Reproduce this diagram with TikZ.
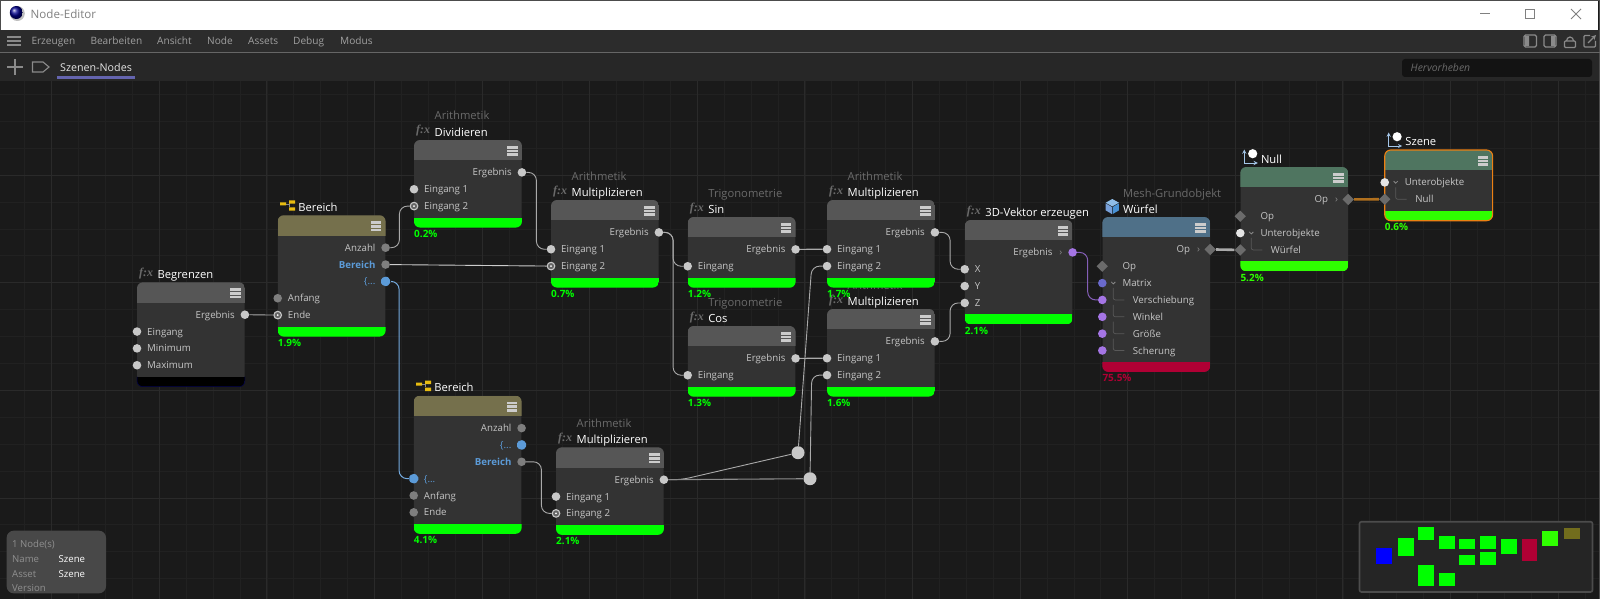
\documentclass[tikz,border=0pt]{standalone}
\usepackage{fontspec}
\setmainfont{Open Sans}
\newfontfamily\fxfont{Liberation Serif}
\usetikzlibrary{calc,shapes.geometric}
\definecolor{canvasbg}{HTML}{1A1A1A}
\definecolor{gridminor}{HTML}{212121}
\definecolor{gridmajor}{HTML}{2A2A2A}
\definecolor{menubg}{HTML}{2C2C2C}
\definecolor{tabbg}{HTML}{272727}
\definecolor{cardbg}{HTML}{333333}
\definecolor{headgray}{HTML}{565656}
\definecolor{headolive}{HTML}{75704C}
\definecolor{headblue}{HTML}{4F7088}
\definecolor{headgreen}{HTML}{4F7560}
\definecolor{barlime}{HTML}{2FFF00}
\definecolor{barred}{HTML}{B00034}
\definecolor{rowgray}{HTML}{C6C6C6}
\definecolor{capgray}{HTML}{6A6A6A}
\definecolor{uigray}{HTML}{8A8A8A}
\definecolor{menugray}{HTML}{A0A0A0}
\definecolor{portlight}{HTML}{C8C8C8}
\definecolor{portdim}{HTML}{7E7E7E}
\definecolor{portblue}{HTML}{5C9BD8}
\definecolor{portpurple}{HTML}{A575E5}
\definecolor{portindigo}{HTML}{6A6ACD}
\definecolor{wireorange}{HTML}{B0701E}
\definecolor{tabline}{HTML}{6464AE}
\definecolor{axisblue}{HTML}{A4C6E8}
\definecolor{rangeyellow}{HTML}{E8BC10}
\tikzset{
	cardbody/.style={fill=cardbg,rounded corners=6,inner sep=0,anchor=north west,minimum width=107.5},
	port/.style={circle,fill=portlight,inner sep=0,minimum size=8.6},
	portgray/.style={port,fill=portdim},
	portpur/.style={port,fill=portpurple},
	portind/.style={port,fill=portindigo},
	portwhite/.style={port,fill=white!90!black},
	portlink/.style={port,fill=#1!80!black,draw=portlight,line width=1.1,minimum size=7.6,
		path picture={\fill[white] (path picture bounding box.center) circle (1);}},
	portlink/.default=portdim,
	portsig/.style={regular polygon,regular polygon sides=5,shape border rotate=-90,fill=portblue,inner sep=0,minimum size=11,rounded corners=1.5},
	portdia/.style={diamond,fill=portdim!85!black,inner sep=0,minimum size=11.5},
	junction/.style={circle,fill=portlight,inner sep=0,minimum size=13},
	rowlab/.style={text=rowgray,inner sep=0,font=\fontsize{9.7}{11}\selectfont,text height=7,text depth=0},
	cardtitle/.style={text=white,inner sep=0,anchor=base west,font=\fontsize{11.2}{13}\selectfont},
	cardcap/.style={text=capgray,inner sep=0,anchor=base west,font=\fontsize{11.2}{13}\selectfont},
	fxmark/.style={text=capgray,inner sep=0,anchor=base west,font=\fontsize{12}{13}\fxfont\bfseries\itshape},
	perc/.style={inner sep=0,anchor=north west,font=\fontsize{10}{12}\selectfont\bfseries},
	wire/.style={draw=portlight!85!black,line width=.9,rounded corners=8},
	bluewire/.style={draw=portblue!85!white,line width=1,rounded corners=8},
	purplewire/.style={draw=portpurple!80!black,line width=1,rounded corners=8},
	treeline/.style={draw=white!35!black,line width=.7,rounded corners=2},
	menutext/.style={text=menugray,inner sep=0,anchor=base west,font=\fontsize{10.1}{12}\selectfont},
	uiline/.style={draw=uigray,line width=1.2},
}
\newcommand{\cardbox}[6]{% name, left, top, rows, header, bar
	\node[cardbody,minimum height={36.6+16.85*#4}] (#1) at (#2,#3) {};
	\begin{scope}
		\clip[rounded corners=6] (#1.north west) rectangle (#1.south east);
		\fill[#5] (#1.north west) rectangle ([yshift=-20.3]#1.north east);
		\fill[#6] ([yshift=10]#1.south west) rectangle (#1.south east);
	\end{scope}
	\foreach \k in {0,1,2}
		\fill[white!80!black] ([xshift=-15,yshift={-6-3.6*\k}]#1.north east) rectangle ++(10.6,2.6);
}
\newcommand{\cardname}[3][]{% category, card, title
	\node[cardtitle] (#2-title) at ([xshift=20.5,yshift=4]#2.north west) {#3};
	\if\relax\detokenize{#1}\relax\else
	\node[cardcap] (#2-cap) at ([xshift=20.5,yshift=20]#2.north west) {#1};\fi
}
\newcommand{\cardfx}[1]{\node[fxmark] (#1-fx) at ([xshift=2,yshift=6]#1.north west) {f:x};}
\newcommand{\cardperc}[3][green]{\node[perc,text=#1] (#2-perc) at ([yshift=-2.5]#2.south west) {#3};}
\newcommand{\pin}[6][port]{% style, name, card, row, offset, text
	\node[#1] (#2) at ([yshift={-32.4-16.85*#4}]#3.north west) {};
	\node[rowlab,anchor=west] (#2-t) at ([xshift=#5]#2.center) {#6};
}
\newcommand{\pout}[5][port]{% style, name, card, row, text
	\node[#1] (#2) at ([yshift={-32.4-16.85*#4}]#3.north east) {};
	\node[rowlab,anchor=east] (#2-t) at ([xshift=-10]#2.center) {#5};
}
\newcommand{\wirelink}[3][wire]{\draw[#1] (#2.east) -| ([xshift=-14.6]#3.center) -- (#3.west);}
\newcommand{\chevdown}[1]{\draw[uigray,line width=.8] ([xshift=9,yshift=1.2]#1.center) -- ([xshift=11,yshift=-.8]#1.center) -- ([xshift=13,yshift=1.2]#1.center);}
\newcommand{\treebranch}[2][12]{\draw[treeline] ([xshift=11,yshift=#1]#2.center) |- ([xshift=22]#2.center);}
\newcommand{\rangeicon}[1]{
	\begin{scope}[shift={(#1.north west)}]
		\draw[uigray,line width=.6] (8,-11.5) -- (12,-11.5) (12,-8.5) -- (12,-13.5);
		\fill[rangeyellow] (2.5,-13) rectangle (8.5,-10) (11.5,-15) rectangle (17.3,-11.7) (11.5,-8) rectangle (17.3,-4.6);
	\end{scope}
}
\newcommand{\axisicon}[1]{
	\begin{scope}[shift={(#1.north west)}]
		\draw[axisblue,line width=.9,<->] (4,-17.5) -- (4,-4) -- (17.5,-4);
		\fill[white] (12.4,-13.3) circle (4.6);
	\end{scope}
}
\newcommand{\cubeicon}[1]{
	\begin{scope}[shift={(#1.north west)}]
		\fill[white!65!cyan!85!blue] (10,-18) -- (16.6,-14.3) -- (10,-10.6) -- (3.4,-14.3) -- cycle;
		\fill[cyan!50!blue!55!white] (3.4,-13.6) -- (9.6,-10) -- (9.6,-3) -- (3.4,-6.6) -- cycle;
		\fill[cyan!60!blue!75!white] (16.6,-13.6) -- (10.4,-10) -- (10.4,-3) -- (16.6,-6.6) -- cycle;
	\end{scope}
}
\begin{document}
\begin{tikzpicture}[>=stealth,x=1pt,y=-1pt]
	\useasboundingbox (0,0) rectangle (1600,599);
	\fill[canvasbg] (0,0) rectangle (1600,599);
	\foreach \i in {0,...,59}{
		\draw[gridminor,line width=.8] ({24.8+26.9*\i},81)--({24.8+26.9*\i},599);}
	\foreach \i in {0,...,18}{
		\draw[gridminor,line width=.8] (0,{94.4+26.9*\i})--(1600,{94.4+26.9*\i});}
	\foreach \i in {0,...,14}{
		\draw[gridmajor,line width=.9] ({51.7+107.6*\i},81)--({51.7+107.6*\i},599);}
	\foreach \i in {0,...,4}{
		\draw[gridmajor,line width=.9] (0,{67.5+107.7*\i})--(1600,{67.5+107.7*\i});}
	% window
	\fill[menubg] (0,30) rectangle (1600,52);
	\fill[tabbg] (0,53) rectangle (1600,81);
	\fill[white] (1,1) rectangle (1598,30);
	\draw[black!70,line width=1] (0,.5)--(1600,.5) (.5,0)--(.5,30) (1599,0)--(1599,599);
	\draw[black!60,line width=1] (0,52.5)--(1600,52.5);
	\fill[white!75!black] (17.3,13.5) circle (7.5);
	\shade[ball color=blue!55!black] (16.3,12.5) circle (6.5);
	\node[menutext,text=black!50,font=\fontsize{11.6}{13}\selectfont] (wintitle) at (30.5,19) {Node-Editor};
	\foreach \y in {37,41,45}{
		\draw[uigray,line width=1.8] (7,\y)--(21,\y);}
	\foreach \name/\x/\lab in {mcreate/31.3/Erzeugen,medit/90.3/Bearbeiten,mview/157/Ansicht,mnode/207/Node,massets/248/Assets,mdebug/293/Debug,mmode/340/Modus}{
		\node[menutext] (\name) at (\x,44.8) {\lab};}
	\draw[uigray,line width=1.9] (7,67)--(23,67) (15,59)--(15,75);
	\draw[uigray,line width=1.1] (32.5,62)--(43,62)--(49,67)--(43,72)--(32.5,72)--cycle;
	\node[menutext,text=white!90!black,font=\fontsize{10.7}{12}\selectfont] (tabname) at (60,72) {Szenen-Nodes};
	\draw[tabline,line width=2.4] (57,77.5)--(135,77.5);
	\draw[black!50,line width=1] (1480,14)--(1490,14);
	\draw[black!50,line width=.9] (1525.5,9.5) rectangle (1534.5,18.5);
	\draw[black!50,line width=.9] (1571,9)--(1581,19) (1581,9)--(1571,19);
	\draw[uiline,rounded corners=1.5] (1524,35) rectangle (1536.5,47) (1544,35) rectangle (1556,47);
	\fill[uigray] (1525,36) rectangle (1529,46) (1551,36) rectangle (1555,46);
	\draw[uiline,rounded corners=1] (1564.5,41) rectangle (1575.5,47.5);
	\draw[uiline] (1566.5,41) arc[start angle=180,end angle=360,x radius=3.5,y radius=4];
	\draw[uiline,rounded corners=1] (1590,35.5)--(1584,35.5)--(1584,47)--(1595.5,47)--(1595.5,41);
	\draw[uiline,->] (1588,43)--(1596,35);
	\fill[black!25!canvasbg,rounded corners=3] (1402,59) rectangle (1592,77);
	\node[menutext,text=capgray,font=\fontsize{10.4}{12}\selectfont\itshape] (searchtext) at (1410.5,71.5) {Hervorheben};
	% cards
	\cardbox{begr}{137}{282.3}{4}{headgray}{black}
	\draw[blue!30!black,line width=.5,rounded corners=6] ([yshift=10]begr.south west) -- (begr.south west) -- (begr.south east) -- ([yshift=10]begr.south east);
	\cardfx{begr}
	\cardname{begr}{Begrenzen}
	\pout{begerg}{begr}{0}{Ergebnis}
	\pin{begein}{begr}{1}{10}{Eingang}
	\pin{begmin}{begr}{2}{10}{Minimum}
	\pin{begmax}{begr}{3}{10}{Maximum}

	\cardbox{range}{277.7}{215.3}{5}{headolive}{green}
	\rangeicon{range}
	\cardname{range}{Bereich}
	\cardperc{range}{1.9\%}
	\pout[portgray]{ranum}{range}{0}{Anzahl}
	\pout[portgray]{raout}{range}{1}{\bfseries\color{portblue}Bereich}
	\pout[portsig]{raset}{range}{2}{\color{portblue}\{...}
	\pin[portgray]{rabeg}{range}{3}{10}{Anfang}
	\pin[portlink]{raend}{range}{4}{10}{Ende}

	\cardbox{divi}{414}{140}{3}{headgray}{green}
	\cardfx{divi}
	\cardname[Arithmetik]{divi}{Dividieren}
	\cardperc{divi}{0.2\%}
	\pout{diverg}{divi}{0}{Ergebnis}
	\pin{divone}{divi}{1}{10}{Eingang 1}
	\pin[portlink]{divtwo}{divi}{2}{10}{Eingang 2}

	\cardbox{multa}{551}{200}{3}{headgray}{green}
	\cardfx{multa}
	\cardname[Arithmetik]{multa}{Multiplizieren}
	\cardperc{multa}{0.7\%}
	\pout{maerg}{multa}{0}{Ergebnis}
	\pin{maone}{multa}{1}{10}{Eingang 1}
	\pin[portlink]{matwo}{multa}{2}{10}{Eingang 2}

	\cardbox{sine}{687.7}{217}{2}{headgray}{green}
	\cardfx{sine}
	\cardname[Trigonometrie]{sine}{Sin}
	\cardperc{sine}{1.2\%}
	\pout{sinerg}{sine}{0}{Ergebnis}
	\pin{sinein}{sine}{1}{10}{Eingang}

	\cardbox{cosi}{687.7}{326}{2}{headgray}{green}
	\cardfx{cosi}
	\cardname[Trigonometrie]{cosi}{Cos}
	\cardperc{cosi}{1.3\%}
	\pout{coserg}{cosi}{0}{Ergebnis}
	\pin{cosein}{cosi}{1}{10}{Eingang}

	\cardbox{multc}{827}{309}{3}{headgray}{green}
	\cardfx{multc}
	\cardname[Arithmetik]{multc}{Multiplizieren}
	\cardperc{multc}{1.6\%}
	\pout{mcerg}{multc}{0}{Ergebnis}
	\pin{mcone}{multc}{1}{10}{Eingang 1}
	\pin{mctwo}{multc}{2}{10}{Eingang 2}

	\cardbox{multb}{827}{200}{3}{headgray}{green}
	\cardfx{multb}
	\cardname[Arithmetik]{multb}{Multiplizieren}
	\cardperc{multb}{1.7\%}
	\pout{mberg}{multb}{0}{Ergebnis}
	\pin{mbone}{multb}{1}{10}{Eingang 1}
	\pin{mbtwo}{multb}{2}{10}{Eingang 2}

	\cardbox{vect}{964.7}{220}{4}{headgray}{green}
	\cardfx{vect}
	\cardname{vect}{3D-Vektor erzeugen}
	\cardperc{vect}{2.1\%}
	\pout[portpur]{veerg}{vect}{0}{Ergebnis\hspace{7pt}{\color{uigray}›}}
	\pin{vex}{vect}{1}{10}{X}
	\pin{vey}{vect}{2}{10}{Y}
	\pin{vez}{vect}{3}{10}{Z}

	\cardbox{wuerfel}{1102.3}{217}{7}{headblue}{barred}
	\cubeicon{wuerfel}
	\cardname[Mesh-Grundobjekt]{wuerfel}{Würfel}
	\cardperc[barred]{wuerfel}{75.5\%}
	\pout[portdia]{wuop}{wuerfel}{0}{Op\hspace{7pt}{\color{uigray}›}}
	\pin[portdia]{wuopin}{wuerfel}{1}{20}{Op}
	\pin[portind]{wumat}{wuerfel}{2}{20}{Matrix}
	\pin[portpur]{wuver}{wuerfel}{3}{30.4}{Verschiebung}
	\pin[portpur]{wuwin}{wuerfel}{4}{30.4}{Winkel}
	\pin[portpur]{wugro}{wuerfel}{5}{30.4}{Größe}
	\pin[portpur]{wusch}{wuerfel}{6}{30.4}{Scherung}
	\chevdown{wumat}
	\foreach \p in {wuver,wuwin,wugro,wusch}{
		\treebranch[12]{\p}}

	\cardbox{nullo}{1240.3}{167}{4}{headgreen}{barlime}
	\axisicon{nullo}
	\cardname{nullo}{Null}
	\cardperc[barlime]{nullo}{5.2\%}
	\pout[portdia]{nuop}{nullo}{0}{Op\hspace{7pt}{\color{uigray}›}}
	\pin[portdia]{nuopin}{nullo}{1}{20}{Op}
	\pin[portwhite]{nuun}{nullo}{2}{20}{Unterobjekte}
	\pin[portdia]{nuwu}{nullo}{3}{30.4}{Würfel}
	\chevdown{nuun}
	\treebranch{nuwu}

	\cardbox{szene}{1384.7}{150}{2}{headgreen}{barlime}
	\draw[orange!70!brown,line width=1.1,rounded corners=6] (szene.north west) rectangle (szene.south east);
	\axisicon{szene}
	\cardname{szene}{Szene}
	\cardperc[barlime]{szene}{0.6\%}
	\pin[portwhite]{szun}{szene}{0}{20}{Unterobjekte}
	\pin[portdia]{sznu}{szene}{1}{30.4}{Null}
	\chevdown{szun}
	\treebranch{sznu}

	\cardbox{rangeb}{413.7}{395.7}{6}{headolive}{green}
	\rangeicon{rangeb}
	\cardname{rangeb}{Bereich}
	\cardperc{rangeb}{4.1\%}
	\pout[portgray]{rbnum}{rangeb}{0}{Anzahl}
	\pout[portsig]{rbset}{rangeb}{1}{\color{portblue}\{...}
	\pout[portgray]{rbout}{rangeb}{2}{\bfseries\color{portblue}Bereich}
	\pin[portsig]{rbin}{rangeb}{3}{10}{\color{portblue}\{...}
	\pin[portgray]{rbbeg}{rangeb}{4}{10}{Anfang}
	\pin[portgray]{rbend}{rangeb}{5}{10}{Ende}

	\cardbox{multd}{556}{447.3}{3}{headgray}{green}
	\cardfx{multd}
	\cardname[Arithmetik]{multd}{Multiplizieren}
	\cardperc{multd}{2.1\%}
	\pout{mderg}{multd}{0}{Ergebnis}
	\pin{mdone}{multd}{1}{10}{Eingang 1}
	\pin[portlink]{mdtwo}{multd}{2}{10}{Eingang 2}

	\node[junction] (joina) at (798,452.7) {};
	\node[junction] (joinb) at (810,478.7) {};
	% wires
	\draw[wire] (begerg) -- (raend);
	\wirelink{ranum}{divtwo}
	\draw[wire,draw=white!80!black] (raout) -- (matwo);
	\wirelink[bluewire]{raset}{rbin}
	\wirelink{diverg}{maone}
	\wirelink{maerg}{sinein}
	\wirelink{maerg}{cosein}
	\draw[wire,line width=1.2] (sinerg) -- (mbone);
	\draw[wire,line width=1.2] (coserg) -- (mcone);
	\wirelink{mberg}{vex}
	\wirelink{mcerg}{vez}
	\wirelink{rbout}{mdtwo}
	\wirelink[purplewire]{veerg}{wuver}
	\draw[wire] (mderg.east) -- ([xshift=13]mderg.east) -- (joina);
	\draw[wire,draw=portlight!70!black,line width=1.1] (mderg) -- (joinb);
	\draw[wire] (joina) -- ([xshift=-15.3]mbtwo.center) -- (mbtwo.west);
	\draw[wire] (joinb) -- ([xshift=-15.3]mctwo.center) -- (mctwo.west);
	\draw[draw=portlight!85!black,line width=2.6] (wuop) -- (nuwu);
	\draw[draw=wireorange,line width=2.6] (nuop) -- (sznu);
	% info panel
	\fill[white!20!canvasbg,rounded corners=7] (6.7,530.7) rectangle (106,593.3);
	\foreach \name/\y/\lab in {infonum/547/1 Node(s),infoname/562/Name,infoasset/577/Asset,infover/591/Version}{
		\node[menutext,text=uigray!95!white,font=\fontsize{9.6}{12}\selectfont] (\name) at (12,\y) {\lab};}
	\node[menutext,text=white,font=\fontsize{9.6}{12}\selectfont] (valname) at (58.5,562) {Szene};
	\node[menutext,text=white,font=\fontsize{9.6}{12}\selectfont] (valasset) at (58.5,577) {Szene};
	% map
	\draw[white!22!canvasbg,fill=white!5!canvasbg,line width=1.6,rounded corners=2] (1359.5,521.7) rectangle (1592.5,592);
	\begin{scope}[shift={(1300,490)},x=.3333pt,y=-.3333pt]
		\fill[blue] (229,175) rectangle (277,221);
		\fill[barred] (665,146) rectangle (712,214);
		\fill[barlime] (727,124) rectangle (774,169);
		\fill[olive!75!black] (792,115) rectangle (839,146);
		\foreach \xa/\ya/\xb/\yb in {293/145/341/199,355/111/402/149,416/138/464/176,478/146/526/176,541/138/589/176,603/147/651/193,478/195/526/226,541/187/589/226,355/226/402/287,418/250/466/287}{
			\fill[green] (\xa,\ya) rectangle (\xb,\yb);}
	\end{scope}
\end{tikzpicture}
\end{document}
